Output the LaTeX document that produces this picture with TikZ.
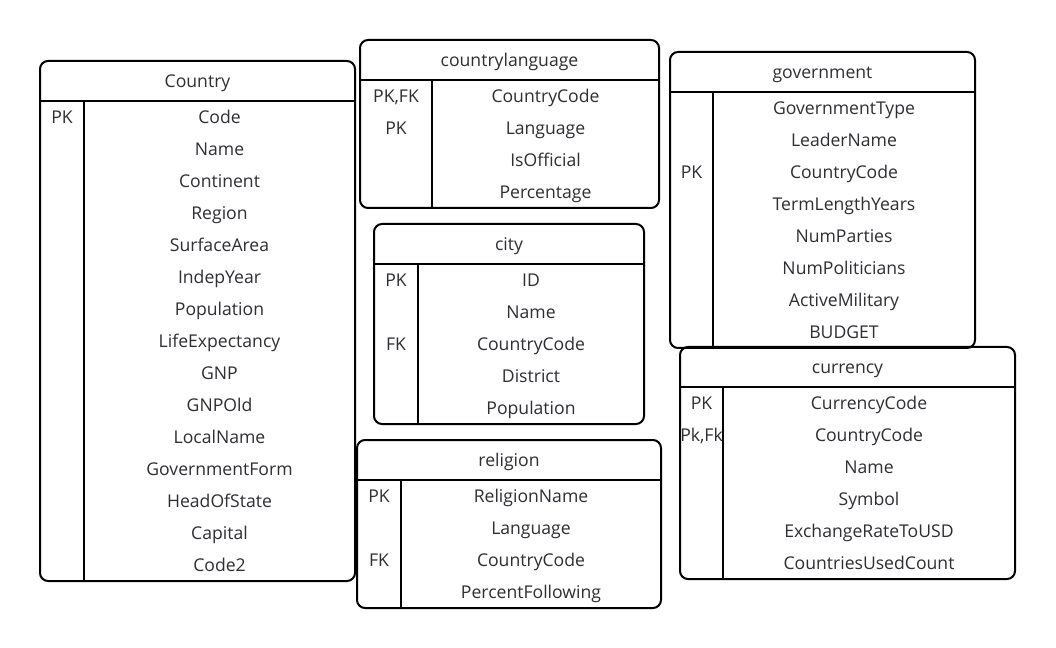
\documentclass[tikz,border=0pt]{standalone}
\usepackage{fontspec}
\setmainfont{Open Sans}
\definecolor{txt}{HTML}{2E2E33}
\tikzset{
  boxline/.style={line width=1.5pt, draw=black, rounded corners=6pt},
  rule/.style={line width=1.5pt, draw=black},
  cell/.style={font=\fontsize{13.2}{15}\selectfont, text=txt, inner sep=0pt,
    text height=9.4pt, text depth=0pt, anchor=center},
}
% #1 id, #2 left, #3 top, #4 right, #5 divider x, #6 title, #7 rows, #8 fields, #9 keys (row/text)
\newcommand\ertable[9]{%
  \draw[boxline] (#2,#3) rectangle (#4,{#3+40+32*#7});
  \draw[rule] (#2,#3+40) -- (#4,#3+40);
  \draw[rule] (#5,#3+40) -- (#5,{#3+40+32*#7});
  \node[cell] (#1-title) at ({(#2+#4)/2},#3+20) {#6};
  \foreach \f [count=\i] in {#8}
    \node[cell] (#1-\i) at ({(#5+#4)/2},{#3+24+32*\i}) {\f};
  \foreach \r/\k in {#9}
    \node[cell] (#1-k\r) at ({(#2+#5)/2},{#3+24+32*\r}) {\k};
}
\begin{document}
\begin{tikzpicture}[x=0.75pt,y=-0.75pt]
\fill[white] (0,0) rectangle (1056,648);
\useasboundingbox (0,0) rectangle (1056,648);

\ertable{country}{40}{61}{355}{84}{Country}{15}
  {Code,Name,Continent,Region,SurfaceArea,IndepYear,Population,LifeExpectancy,GNP,GNPOld,LocalName,GovernmentForm,HeadOfState,Capital,Code2}
  {1/PK}

\ertable{cl}{360}{40}{659}{432}{countrylanguage}{4}
  {CountryCode,Language,IsOfficial,Percentage}
  {1/{PK,FK},2/PK}

\ertable{gov}{670}{52}{975}{713}{government}{8}
  {GovernmentType,LeaderName,CountryCode,TermLengthYears,NumParties,NumPoliticians,ActiveMilitary,BUDGET}
  {3/PK}

\ertable{city}{374}{224}{644}{418}{city}{5}
  {ID,Name,CountryCode,District,Population}
  {1/PK,3/FK}

\ertable{rel}{357}{440}{661}{401}{religion}{4}
  {ReligionName,Language,CountryCode,PercentFollowing}
  {1/PK,3/FK}

\ertable{cur}{680}{347}{1015}{723}{currency}{6}
  {CurrencyCode,CountryCode,Name,Symbol,ExchangeRateToUSD,CountriesUsedCount}
  {1/PK,2/{Pk,Fk}}
\end{tikzpicture}
\end{document}
